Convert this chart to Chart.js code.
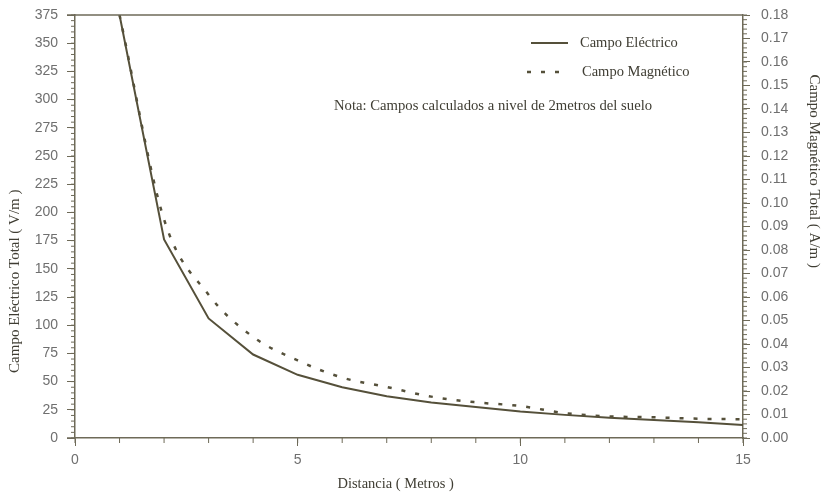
<!DOCTYPE html>
<html>
<head>
<meta charset="utf-8">
<script src="https://cdn.jsdelivr.net/npm/chart.js@4/dist/chart.umd.min.js"></script>
<style>
  html, body { margin: 0; padding: 0; background: #ffffff; }
  #wrap { width: 822px; height: 496px; }
</style>
</head>
<body>
<div id="wrap"><canvas id="grafico" width="822" height="496"></canvas></div>
<script>
// datos
const distancia = [1, 2, 3, 4, 5, 6, 7, 8, 9, 10, 11, 12, 13, 14, 15];
const campoElectrico = [375, 176, 106, 74, 56, 45, 37, 31.5, 27.5, 23.5, 20.5, 18, 16, 14, 11.5];
const campoMagnetico = [0.18, 0.093, 0.061, 0.043, 0.033, 0.0257, 0.0217, 0.0176, 0.0152, 0.0136, 0.0106, 0.0092, 0.0088, 0.0082, 0.008];
const etiquetas = ["Campo Eléctrico", "Campo Magnético"];
const tituloX = "Distancia ( Metros )";
const tituloY = "Campo Eléctrico Total ( V/m )";
const tituloY2 = "Campo Magnético Total ( A/m )";
const nota = "Nota: Campos calculados a nivel de 2metros del suelo";

const colorLinea = "#55503a";
const colorEje = "#6e6a58";
const colorTexto = "#6f6f6f";
const colorTitulo = "#3f3d33";
const serif = "'Liberation Serif', 'DejaVu Serif', serif";
const sans = "'Liberation Sans', Arial, sans-serif";

const sinRelleno = (s) => { s.paddingTop = 0; s.paddingBottom = 0; };

const extras = {
  id: "extras",
  afterDraw(chart) {
    const ctx = chart.ctx;
    const a = chart.chartArea;
    const sx = chart.scales.x, sy = chart.scales.y, sy2 = chart.scales.y2;
    const linea = (x1, y1, x2, y2) => {
      ctx.beginPath(); ctx.moveTo(x1, y1); ctx.lineTo(x2, y2); ctx.stroke();
    };
    ctx.save();
    ctx.strokeStyle = colorEje;
    ctx.lineWidth = 1.5;
    linea(a.left - 8, a.top, a.right, a.top);
    linea(a.left - 8, a.bottom, a.left, a.bottom);

    // ticks menores
    ctx.lineWidth = 1;
    for (let v = 0; v <= 15; v += 1) {
      const px = sx.getPixelForValue(v);
      linea(px, a.bottom, px, a.bottom + 5);
    }
    for (let v = 0; v <= 375; v += 5) {
      const py = sy.getPixelForValue(v);
      linea(a.left - 4, py, a.left, py);
    }
    for (let i = 0; i <= 90; i++) {
      const py = sy2.getPixelForValue(i * 0.002);
      linea(a.right, py, a.right + 4, py);
    }

    // titulos de ejes
    ctx.fillStyle = colorTitulo;
    ctx.textBaseline = "middle";
    ctx.textAlign = "center";
    ctx.font = "14.5px " + serif;
    ctx.fillText(tituloX, sx.getPixelForValue(7.2), 484);
    ctx.font = "15px " + serif;
    ctx.save();
    ctx.translate(15, sy.getPixelForValue(139));
    ctx.rotate(-Math.PI / 2);
    ctx.fillText(tituloY, 0, 0);
    ctx.restore();
    ctx.save();
    ctx.translate(814, sy2.getPixelForValue(0.1135));
    ctx.rotate(Math.PI / 2);
    ctx.fillText(tituloY2, 0, 0);
    ctx.restore();

    // leyenda
    const ds = chart.data.datasets;
    ctx.font = "14.5px " + serif;
    ctx.textAlign = "left";
    ctx.strokeStyle = ds[0].borderColor;
    ctx.lineWidth = 2;
    linea(a.left + 456, a.top + 28, a.left + 493, a.top + 28);
    ctx.fillText(ds[0].label, a.left + 505, a.top + 28);
    ctx.strokeStyle = ds[1].borderColor;
    ctx.lineWidth = 2.5;
    ctx.setLineDash(ds[1].borderDash);
    linea(a.left + 452, a.top + 57, a.left + 490, a.top + 57);
    ctx.setLineDash([]);
    ctx.fillText(ds[1].label, a.left + 507, a.top + 57);

    // nota
    ctx.textAlign = "center";
    ctx.font = "14.7px " + serif;
    ctx.fillText(nota, a.left + 418, a.top + 91);
    ctx.restore();
  }
};

new Chart(document.getElementById("grafico"), {
  type: "line",
  data: {
    datasets: [
      {
        label: etiquetas[0],
        data: distancia.map((d, i) => ({ x: d, y: campoElectrico[i] })),
        yAxisID: "y",
        borderColor: colorLinea,
        borderWidth: 2,
        pointRadius: 0,
        tension: 0
      },
      {
        label: etiquetas[1],
        data: distancia.map((d, i) => ({ x: d, y: campoMagnetico[i] })),
        yAxisID: "y2",
        borderColor: colorLinea,
        borderWidth: 2.5,
        borderDash: [4, 10],
        pointRadius: 0,
        cubicInterpolationMode: "monotone"
      }
    ]
  },
  options: {
    responsive: false,
    animation: false,
    layout: { padding: { top: 15, left: 0, right: 0, bottom: 0 } },
    plugins: { legend: { display: false }, tooltip: { enabled: false } },
    scales: {
      x: {
        type: "linear",
        min: 0,
        max: 15,
        afterFit: (s) => { s.height = 58; s.paddingLeft = 0; s.paddingRight = 0; },
        border: { color: colorEje, width: 1.5 },
        grid: { drawOnChartArea: false, tickLength: 8, color: colorEje },
        ticks: { stepSize: 5, padding: 6, color: colorTexto, font: { family: sans, size: 14 } }
      },
      y: {
        position: "left",
        min: 0,
        max: 375,
        afterFit: (s) => { s.width = 75; sinRelleno(s); },
        border: { color: colorEje, width: 1.5 },
        grid: { drawOnChartArea: false, tickLength: 8, color: colorEje },
        ticks: { stepSize: 25, padding: 9, color: colorTexto, font: { family: sans, size: 14 } }
      },
      y2: {
        position: "right",
        min: 0,
        max: 0.18,
        afterFit: (s) => { s.width = 79; sinRelleno(s); },
        border: { color: colorEje, width: 1.5 },
        grid: { drawOnChartArea: false, tickLength: 7, color: colorEje },
        ticks: { stepSize: 0.01, padding: 11, color: colorTexto, font: { family: sans, size: 14 }, callback: (v) => v.toFixed(2) }
      }
    }
  },
  plugins: [extras]
});
</script>
</body>
</html>
